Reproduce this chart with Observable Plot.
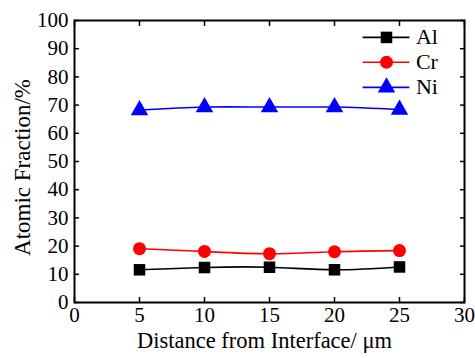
<!DOCTYPE html>
<html><head><meta charset="utf-8">
<script src="https://cdn.jsdelivr.net/npm/d3@7"></script>
<script src="https://cdn.jsdelivr.net/npm/@observablehq/plot@0.6"></script>
<style>body{margin:0;background:#fff}
#chart svg, #chart svg text{font-family:"Liberation Serif","Times New Roman",serif !important}</style>
</head><body><div id="chart"></div>
<script>
const distance = [5, 10, 15, 20, 25];
const al = [11.6, 12.4, 12.5, 11.6, 12.6];
const cr = [19.1, 18.1, 17.3, 18.0, 18.4];
const ni = [68.2, 69.3, 69.3, 69.3, 68.4];
const seriesNames = ["Al", "Cr", "Ni"];
const seriesColors = ["#000000", "#ff0000", "#0000ff"];
const seriesSymbols = ["square", "circle", "triangle"];
const xTicks = [0, 5, 10, 15, 20, 25, 30];
const yTicks = [0, 10, 20, 30, 40, 50, 60, 70, 80, 90, 100];
// legend placement in data units
const legendRows = [94, 85.2, 76.3];
const legendLine = [22.2, 25.8];

const values = [al, cr, ni];
const data = [];
seriesNames.forEach((s, i) => distance.forEach((d, j) => data.push({series: s, x: d, y: values[i][j]})));
const legend = seriesNames.map((s, i) => ({series: s, y: legendRows[i], x1: legendLine[0], x2: legendLine[1], xm: (legendLine[0] + legendLine[1]) / 2}));

const plot = Plot.plot({
  width: 475, height: 358,
  marginLeft: 74, marginRight: 11, marginTop: 20, marginBottom: 56,
  style: {fontFamily: "Liberation Serif", fontSize: "21px", color: "#000", background: "#fff"},
  x: {domain: [0, 30]},
  y: {domain: [0, 100]},
  color: {domain: seriesNames, range: seriesColors},
  symbol: {domain: seriesNames, range: seriesSymbols},
  marks: [
    Plot.axisX({ticks: xTicks, tickSize: -5, text: null, label: null, strokeWidth: 1.5}),
    Plot.axisX({ticks: xTicks, anchor: "top", tickSize: -5, text: null, label: null, strokeWidth: 1.5}),
    Plot.axisX({ticks: xTicks, tickSize: 0, tickPadding: 5, label: null}),
    Plot.axisY({ticks: yTicks, tickSize: -5, text: null, label: null, strokeWidth: 1.5}),
    Plot.axisY({ticks: yTicks, anchor: "right", tickSize: -5, text: null, label: null, strokeWidth: 1.5}),
    Plot.axisY({ticks: yTicks, tickSize: 0, tickPadding: 6, label: null}),
    Plot.frame({stroke: "#000", strokeWidth: 2}),
    Plot.line(data, {x: "x", y: "y", z: "series", stroke: "series", strokeWidth: 1.6, curve: "natural"}),
    Plot.dot(data, {x: "x", y: "y", fill: "series", symbol: "series", r: 6.5}),
    Plot.ruleY(legend, {y: "y", x1: "x1", x2: "x2", stroke: "series", strokeWidth: 1.6}),
    Plot.dot(legend, {x: "xm", y: "y", fill: "series", symbol: "series", r: 6.5}),
    Plot.text(legend, {x: "x2", y: "y", text: "series", textAnchor: "start", dx: 6, fontSize: 22}),
    Plot.text(["Distance from Interface/ μm"], {frameAnchor: "bottom", dy: 45, dx: -5, fontSize: 22.5}),
    Plot.text(["Atomic Fraction/%"], {frameAnchor: "left", rotate: -90, textAnchor: "middle", dx: -52, dy: 6, fontSize: 23})
  ]
});
document.getElementById("chart").append(plot);
</script>
</body></html>
